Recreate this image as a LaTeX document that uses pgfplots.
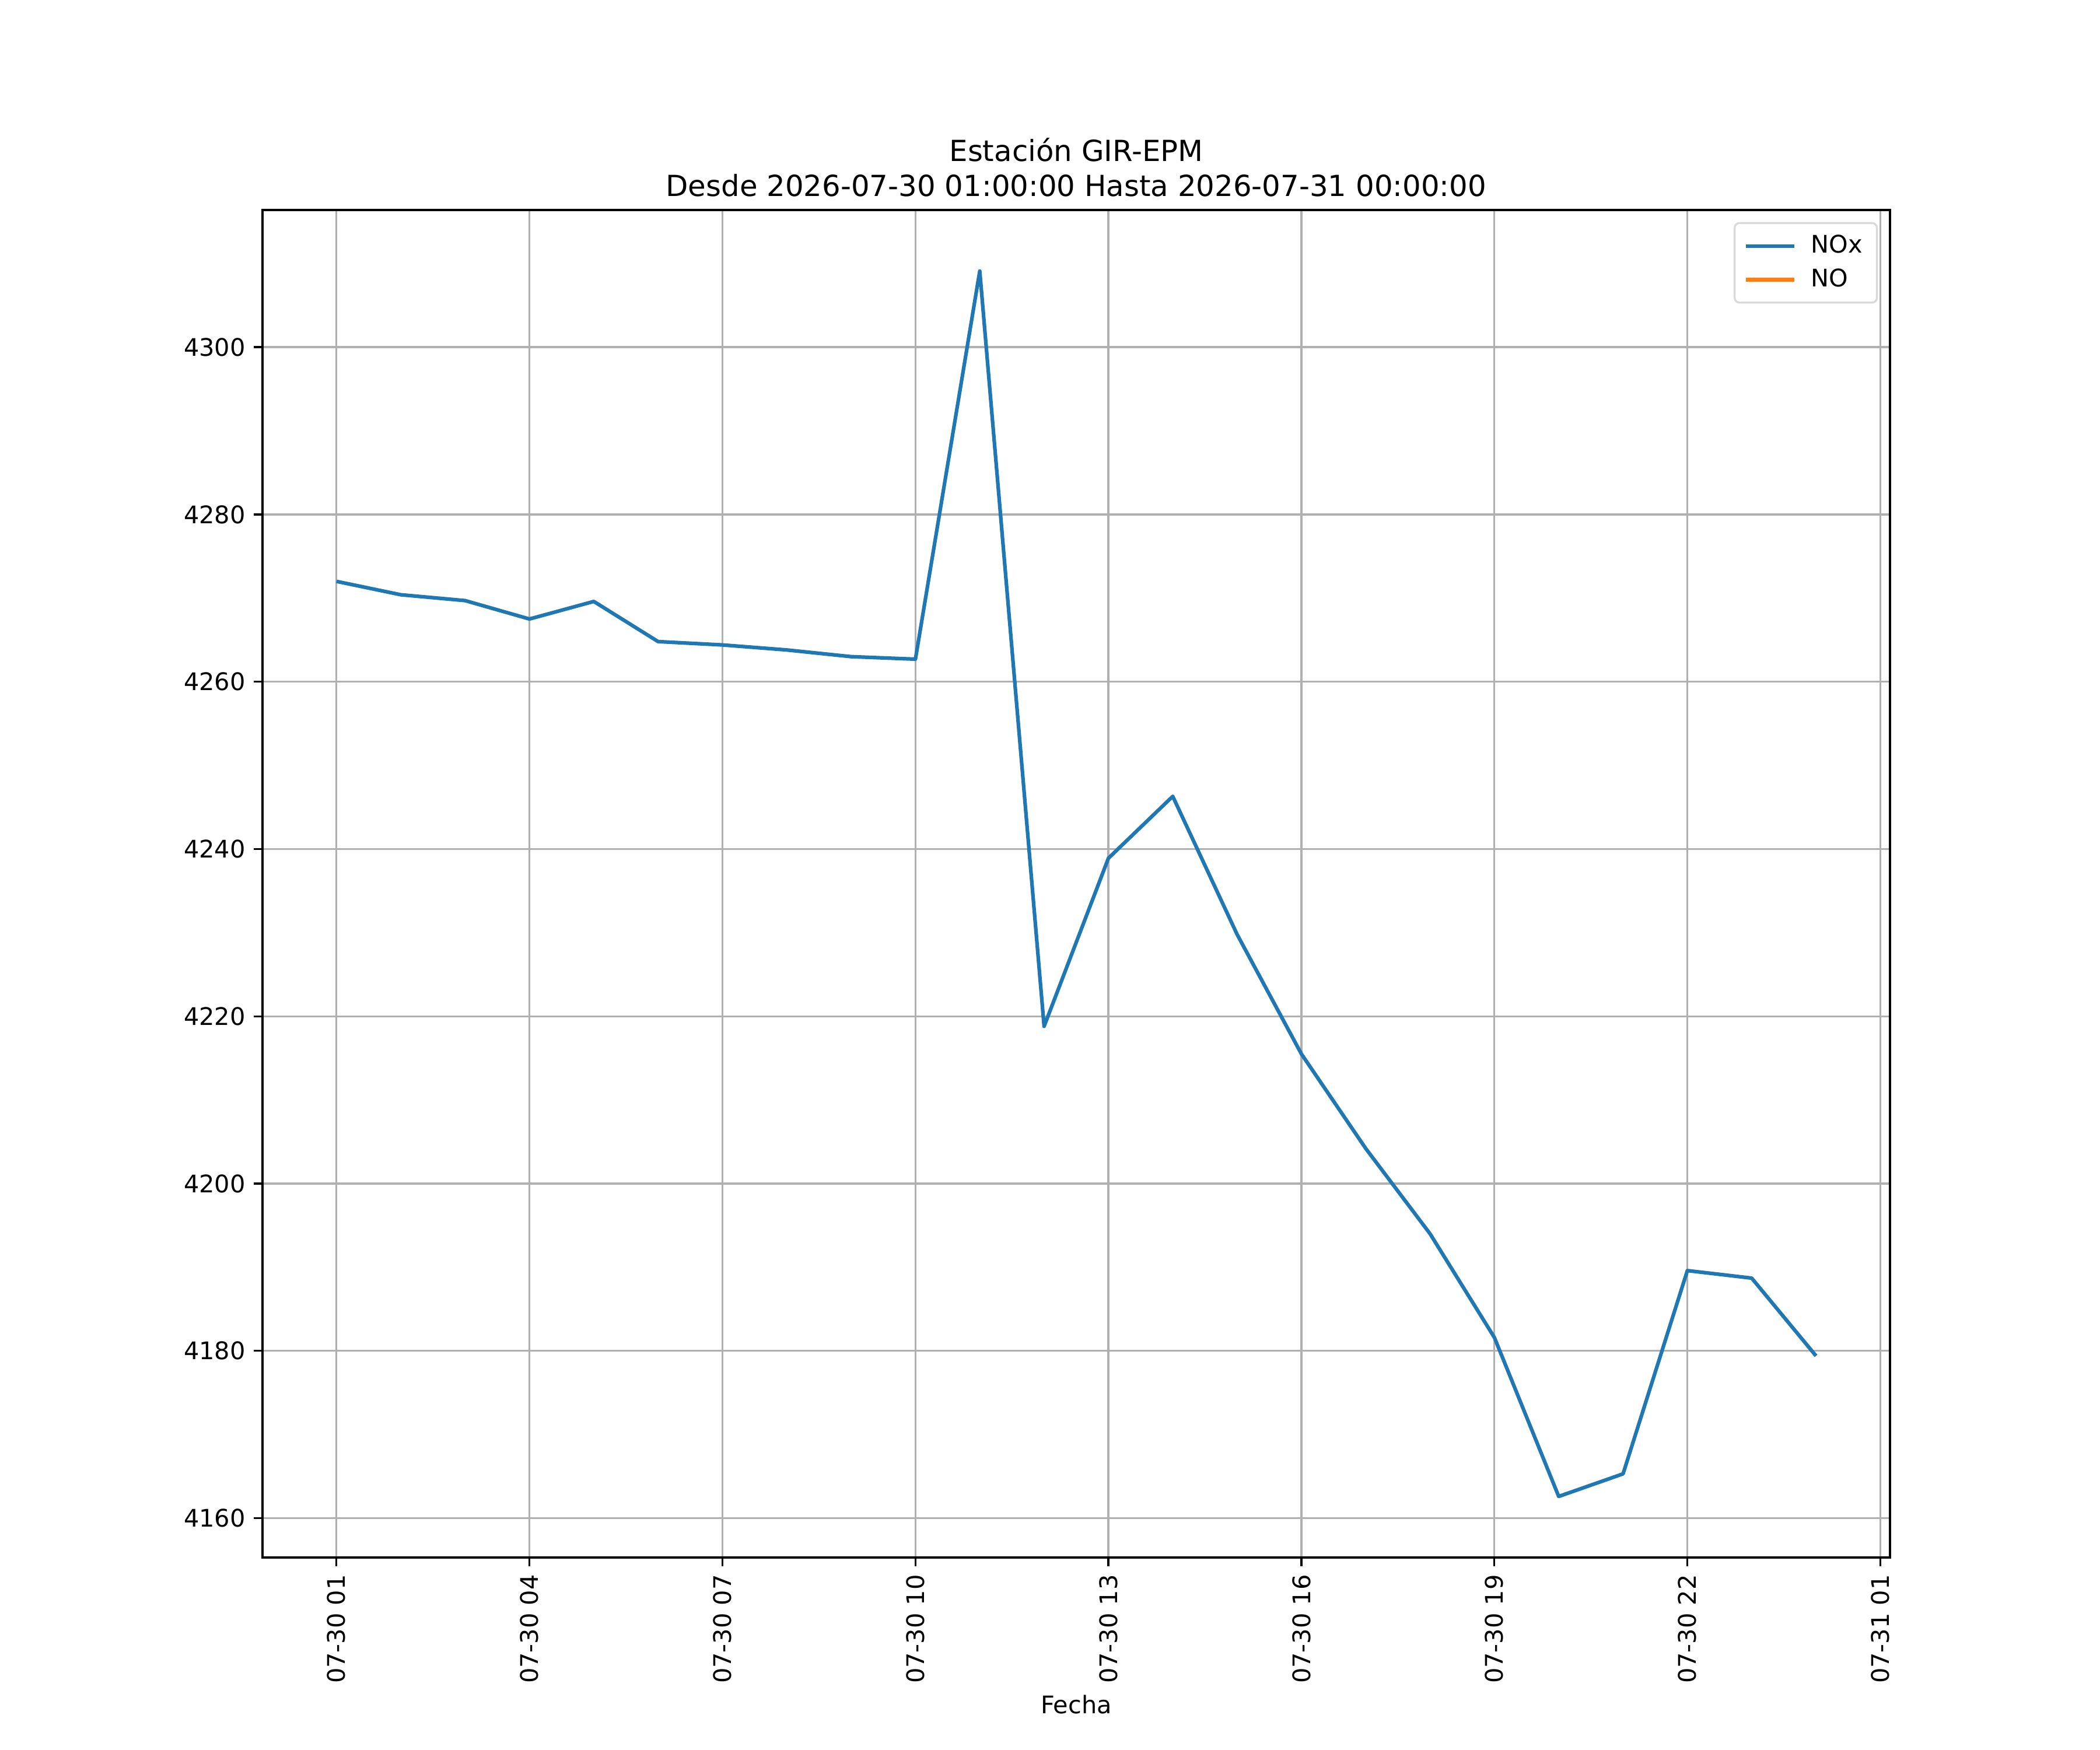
\documentclass[border=0pt]{standalone}
\usepackage{fontspec}
\setmainfont{DejaVu Sans}
\usepackage{pgfplots}
\pgfplotsset{compat=1.18}
\definecolor{mplblue}{HTML}{1F77B4}
\definecolor{mplorange}{HTML}{FF7F0E}
\definecolor{gridgray}{HTML}{B0B0B0}
\begin{document}
\begin{tikzpicture}
\useasboundingbox (0,0) rectangle (12in,10in);
\begin{axis}[
  at={(1.5in,1.1in)}, anchor=south west,
  width=9.3in, height=7.7in, scale only axis,
  xmin=-0.15, xmax=25.15, ymin=4155.3, ymax=4316.4,
  xtick={1,4,7,10,13,16,19,22,25},
  xticklabels={07-30 01,07-30 04,07-30 07,07-30 10,07-30 13,07-30 16,07-30 19,07-30 22,07-31 01},
  x tick label style={rotate=90, anchor=east},
  ytick={4160,4180,4200,4220,4240,4260,4280,4300},
  yticklabel style={/pgf/number format/1000 sep={}},
  /pgf/number format/assume math mode=true,
  font=\fontsize{10}{12}\selectfont,
  tick label style={font=\fontsize{10}{12}\selectfont},
  grid=major, grid style={gridgray, line width=0.8pt},
  tick align=outside, tick pos=left, major tick length=3.5pt,
  axis line style={line width=0.8pt},
  every tick/.style={black, line width=0.8pt},
  xlabel={Fecha},
  xlabel style={font=\fontsize{10}{12}\selectfont, yshift=2pt},
  title={Estación GIR-EPM\\Desde 2026-07-30 01:00:00 Hasta 2026-07-31 00:00:00},
  title style={font=\fontsize{12}{14.5}\selectfont, align=center, yshift=-4pt},
  legend style={at={(1,1)}, anchor=north east, xshift=-5pt, yshift=-5pt,
    draw=black!15, line width=0.8pt, rounded corners=2pt,
    inner xsep=4pt, inner ysep=3pt, row sep=1pt,
    font=\fontsize{10}{12}\selectfont},
  legend cell align=left,
  legend image code/.code={\draw[#1, line width=1.5pt] (0pt,0pt) -- (20pt,0pt); \path (24pt,0pt);},
]
\addplot[mplblue, line width=1.5pt, line join=round] coordinates {
(1,4272.0) (2,4270.4) (3,4269.7) (4,4267.5) (5,4269.6) (6,4264.8)
(7,4264.4) (8,4263.8) (9,4263.0) (10,4262.7) (11,4309.1) (12,4218.8)
(13,4238.9) (14,4246.3) (15,4229.8) (16,4215.5) (17,4204.2) (18,4194.0)
(19,4181.6) (20,4162.6) (21,4165.3) (22,4189.6) (23,4188.7) (24,4179.4)
};
\addlegendentry{NOx}
\addlegendimage{mplorange, line width=1.5pt}
\addlegendentry{NO}
\end{axis}
\end{tikzpicture}
\end{document}
